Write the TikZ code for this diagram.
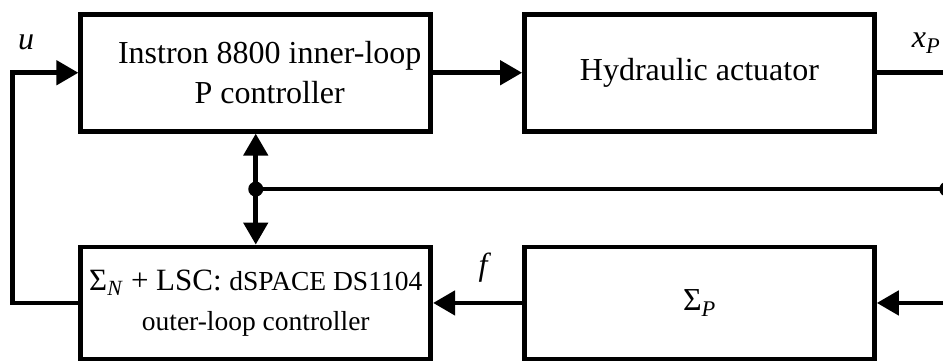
\documentclass[tikz,border=0pt]{standalone}
\usepackage{fontspec}
\setmainfont{Liberation Serif}
\usetikzlibrary{arrows.meta,positioning,calc}

\begin{document}
\begin{tikzpicture}[
  x=1pt, y=1pt,
  >={Triangle[length=22pt,width=24pt]},
  line width=4.7pt,
  blk/.style={draw, align=center, minimum width=350pt, minimum height=117pt,
              font=\fontsize{32}{40}\selectfont},
  lowblk/.style={minimum height=112pt},
  lbl/.style={font=\fontsize{32}{36}\selectfont, inner sep=0pt},
  jdot/.style={circle, fill, inner sep=0pt, minimum size=15pt}
]
  \useasboundingbox (0,0) rectangle (943,362);
  % blocks
  \node[blk] (inner) at (255.75,289.25)
    {\hspace*{28pt}Instron 8800 inner-loop\\\hspace*{28pt}P controller};
  \node[blk, right=89pt of inner] (hyd) {Hydraulic actuator};
  \node[blk, lowblk, below=111pt of inner, font=\fontsize{27.5}{40}\selectfont] (outer)
    {{\fontsize{31}{40}\selectfont Σ\textsubscript{\textit{N}} + LSC: }dSPACE DS1104\\outer-loop controller};
  \node[blk, lowblk, right=89pt of outer] (sigp) {Σ\textsubscript{\textit{P}}};
  % helper points
  \coordinate (j) at ($(inner.south)!0.5!(outer.north)$);
  \coordinate[right=70pt of hyd.east] (xpout);
  \coordinate (tap) at (j -| xpout);
  \coordinate (fin) at (sigp.east -| xpout);
  \coordinate[left=66pt of outer.west] (fbk);
  % connectors
  \draw[->] (outer.west) -- (fbk) |- (inner.west);
  \draw[->] (inner.east) -- (hyd.west);
  \draw (hyd.east) -- (xpout);
  \draw[<->] (inner.south) -- (outer.north);
  \draw (j) -- (tap);
  \node[jdot] (jd) at (j) {};
  \node[jdot] (td) at (tap) {};
  \draw[->] (fin) -- (sigp.east);
  \draw[->] (sigp.west) -- (outer.east);
  % signal labels
  \node[lbl] (u) at (26,320) {\textit{u}};
  \node[lbl] (xp) at (926,319) {\textit{x}\textsubscript{\textit{P}}};
  \node[lbl] (f) at (485,94) {\textit{f}};
\end{tikzpicture}
\end{document}
